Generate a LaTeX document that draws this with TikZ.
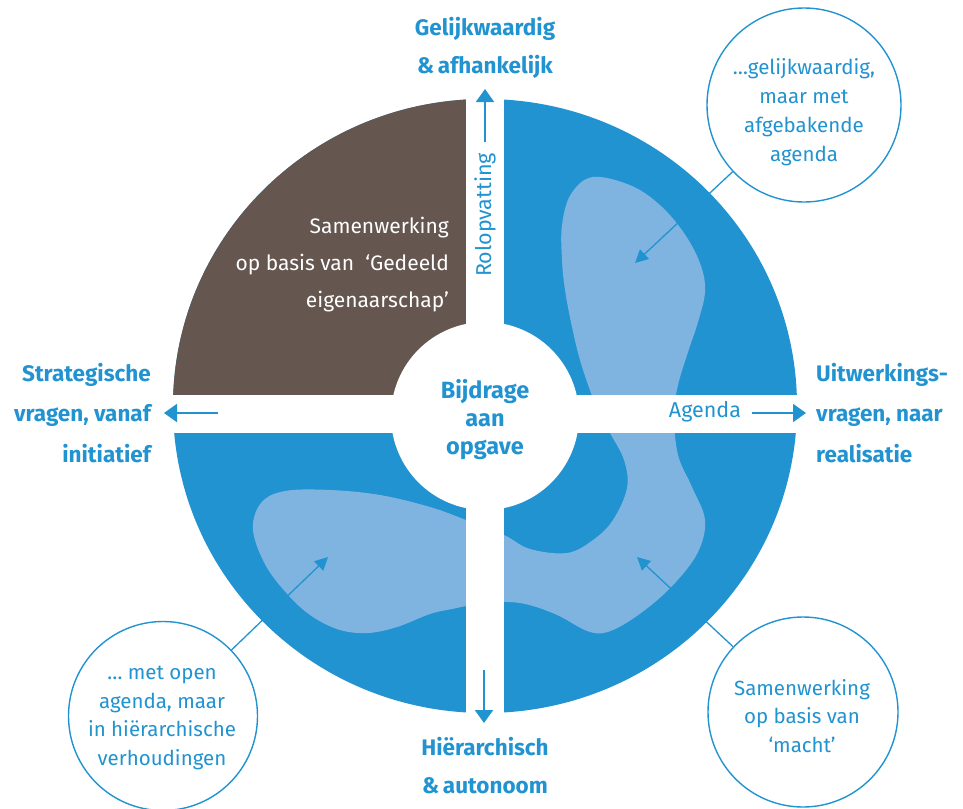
\documentclass[tikz,border=0pt]{standalone}
\usepackage{fontspec}
\setmainfont{Fira Sans}
\usetikzlibrary{arrows.meta}
\definecolor{rblue}{HTML}{2293D1}
\definecolor{lblue}{HTML}{80B4E0}
\definecolor{rbrown}{HTML}{65564F}
\tikzset{
  axlabel/.style={text=rblue, font=\fontsize{22.5}{38}\selectfont\bfseries, align=center, inner sep=0pt},
  reglabel/.style={text=rblue, font=\fontsize{21.5}{37}\selectfont, inner sep=0pt},
  callout/.style={draw=rblue, line width=1.4pt, circle, fill=white, inner sep=0pt},
  ctext/.style={text=rblue, font=\fontsize{20.5}{28.8}\selectfont, align=center, inner sep=0pt},
  axarrow/.style={draw=rblue, line width=2pt, -{Triangle[length=13pt,width=18pt]}},
  conn/.style={draw=rblue, line width=1.3pt, -{Triangle[length=13pt,width=13pt]}},
}
\begin{document}
\begin{tikzpicture}[x=1pt,y=-1pt]
\useasboundingbox (0,0) rectangle (963,808);
% main disc
\fill[rblue] (485,406) ellipse [x radius=312pt, y radius=307pt];
\begin{scope}
  \clip (0,0) rectangle (485,414);
  \fill[rbrown] (485,406) ellipse [x radius=312pt, y radius=307pt];
\end{scope}
% light blob
\fill[lblue] plot[smooth cycle, tension=0.6] coordinates {
 (593,177) (632,186) (662,207) (686,236) (701,266) (705,292) (698,322) (688,352) (678,385)
 (674,414) (678,455) (692,487) (705,520) (698,552) (675,583) (645,610) (613,630) (590,632)
 (555,614) (520,603) (485,603) (452,609) (430,614) (397,627) (368,633) (340,630) (313,617)
 (290,597) (266,566) (253,530) (261,503) (285,491) (330,490) (380,495) (430,507) (466,520)
 (504,535) (530,549) (567,553) (593,540) (613,520) (627,488) (624,460) (610,433) (600,414)
 (591,393) (580,360) (572,327) (565,290) (562,260) (562,225) (571,194)};
% white cross and centre
\fill[white] (466,80) rectangle (504,735);
\fill[white] (160,395) rectangle (812,433);
\node[circle, fill=white, minimum size=188pt, inner sep=0pt] (centre) at (485,416) {};
\node[text=rblue, font=\fontsize{23.5}{28}\selectfont\bfseries, align=center, inner sep=0pt] (ctr) at (485,420) {Bijdrage\\aan\\opgave};
% axis arrows
\coordinate (topS) at (485,142);
\coordinate (topT) at (485,89);
\draw[axarrow] (topS) -- (topT);
\coordinate (botS) at (484,670);
\coordinate (botT) at (484,723);
\draw[axarrow] (botS) -- (botT);
\coordinate (lefS) at (218,413);
\coordinate (lefT) at (164,413);
\draw[axarrow] (lefS) -- (lefT);
\coordinate (rigS) at (752,413);
\coordinate (rigT) at (806,413);
\draw[axarrow] (rigS) -- (rigT);
\node[reglabel, rotate=90] (rol) at (485,215) {Rolopvatting};
\node[reglabel] (agenda) at (705,412) {Agenda};
% axis labels
\node[axlabel] (top) at (485,48) {Gelijkwaardig\\\&\,afhankelijk};
\node[axlabel] (bot) at (485,766) {Hiërarchisch\\\&\,autonoom};
\node[axlabel, align=right, anchor=east, font=\fontsize{22.5}{40.5}\selectfont\bfseries] (left) at (151,413) {Strategische\\vragen, vanaf\\initiatief};
\node[axlabel, align=left, anchor=west, font=\fontsize{22.5}{40.5}\selectfont\bfseries] (right) at (816,413) {Uitwerkings-\\vragen, naar\\realisatie};
% brown quadrant text
\node[text=white, font=\fontsize{21}{37}\selectfont, align=right, anchor=east, inner sep=0pt] (brown) at (449,265) {Samenwerking\\op basis van~~‘Gedeeld\\eigenaarschap’};
% callouts
\node[callout, minimum size=194pt] (c1) at (804,105) {};
\node[callout, minimum size=189pt] (c2) at (163,716) {};
\node[callout, minimum size=190pt] (c3) at (803,712) {};
\node[ctext] (t1) at (804,112) {…gelijkwaardig,\\maar met\\afgebakende\\agenda};
\node[ctext] (t2) at (162,718) {… met open\\agenda, maar\\in hiërarchische\\verhoudingen};
\node[ctext] (t3) at (802,716) {Samenwerking\\op basis van\\‘macht’};
\coordinate (a1) at (635,263);
\coordinate (a2) at (328,557);
\coordinate (a3) at (637,557);
\draw[conn] (c1) -- (a1);
\draw[conn] (c2) -- (a2);
\draw[conn] (c3) -- (a3);
\end{tikzpicture}
\end{document}
